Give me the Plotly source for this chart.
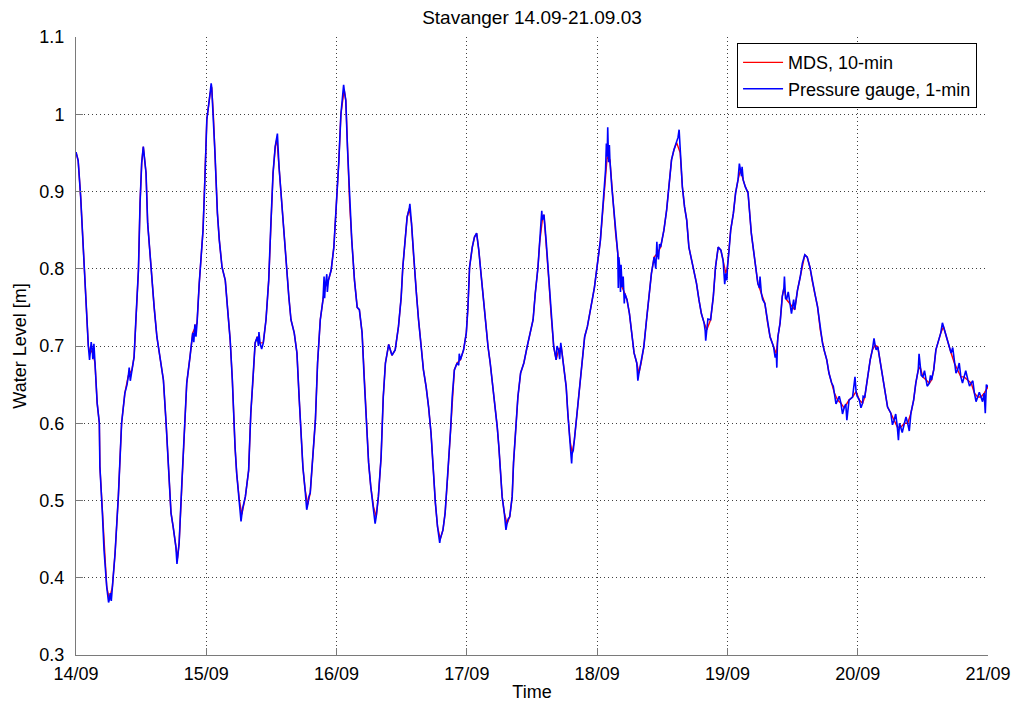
import pandas as pd
import plotly.graph_objects as go

# ---- data (hours since 14/09 00:00, water level in m) ----
key_hours = [
    0.0, 0.4, 0.86, 1.35, 1.97, 2.27, 2.6, 3.0, 3.2, 3.5, 3.9, 4.3, 4.4, 4.86, 5.16, 5.66, 6.15, 6.7, 7.2, 7.8,
    8.4, 9.0, 9.65, 10.3, 10.7, 11.06, 11.5, 11.8, 12.1, 12.4, 12.9, 13.2, 13.8, 14.4, 14.9, 15.5, 16.1, 16.6, 17.0, 17.5,
    17.9, 18.4, 18.7, 19.0, 19.5, 19.9, 20.4, 21.0, 21.5, 22.3, 22.7, 23.4, 23.7, 24.1, 24.7, 25.0, 25.3, 25.6, 26.05, 26.4,
    26.9, 27.5, 27.9, 28.4, 28.8, 29.0, 29.3, 29.6, 30.1, 30.55, 31.2, 31.8, 32.2, 32.6, 33.0, 33.4, 33.9, 34.5, 35.0, 35.5,
    35.9, 36.3, 36.7, 37.0, 37.4, 37.8, 38.2, 38.7, 39.2, 39.6, 40.2, 40.7, 41.1, 41.5, 41.8, 42.2, 42.7, 43.15, 43.6, 44.1,
    44.5, 45.0, 45.5, 45.9, 46.5, 47.0, 47.5, 47.9, 48.4, 48.8, 49.2, 49.4, 49.7, 50.0, 50.4, 50.8, 51.3, 51.8, 52.2, 52.7,
    53.1, 53.4, 53.9, 54.3, 54.8, 55.3, 55.7, 56.2, 56.6, 57.0, 57.6, 58.2, 58.8, 59.4, 59.9, 60.2, 60.7, 61.0, 61.4, 61.8,
    62.2, 62.7, 63.1, 63.6, 64.0, 64.5, 64.95, 65.4, 65.8, 66.2, 66.6, 67.1, 67.6, 68.0, 68.5, 69.0, 69.3, 69.7, 70.2, 70.8,
    71.4, 71.9, 72.2, 72.5, 73.0, 73.4, 73.8, 74.2, 74.6, 75.0, 75.4, 75.9, 76.3, 76.8, 77.3, 77.6, 77.9, 78.2, 78.5, 78.9,
    79.4, 79.9, 80.35, 80.6, 80.95, 81.4, 81.9, 82.5, 83.1, 83.7, 84.2, 84.6, 85.1, 85.4, 85.9, 86.2, 86.6, 87.1, 87.5, 88.0,
    88.45, 88.9, 89.4, 89.9, 90.3, 90.6, 91.0, 91.4, 91.8, 92.3, 92.8, 93.3, 93.7, 94.2, 94.7, 95.1, 95.5, 95.9, 96.3, 96.6,
    96.9, 97.2, 97.55, 97.85, 98.35, 98.7, 99.1, 99.4, 99.8, 100.2, 100.6, 101.1, 101.5, 101.95, 102.3, 102.8, 103.3, 103.7, 104.1, 104.6,
    105.1, 105.5, 106.0, 106.5, 107.1, 107.7, 108.3, 108.8, 109.2, 109.7, 110.15, 110.65, 111.3, 111.7, 112.1, 112.5, 112.9, 113.4, 113.8, 114.3,
    114.75, 115.2, 115.7, 116.2, 116.9, 117.4, 117.8, 118.3, 118.8, 119.2, 119.7, 120.0, 120.3, 120.6, 121.1, 121.5, 121.95, 122.4, 122.9, 123.3,
    123.8, 124.4, 124.8, 125.2, 125.6, 126.25, 126.9, 127.4, 127.85, 128.5, 129.0, 129.3, 129.7, 130.1, 130.4, 130.9, 131.5, 132.0, 132.4, 132.9,
    133.4, 133.8, 134.25, 134.7, 135.2, 135.6, 136.1, 136.6, 137.1, 137.5, 137.8, 138.3, 138.7, 139.2, 139.7, 140.3, 140.9, 141.5, 142.4, 143.05,
    143.7, 144.3, 144.9, 145.3, 145.8, 146.3, 146.7, 147.2, 147.7, 148.1, 148.6, 149.0, 149.5, 150.1, 150.7, 151.3, 151.95, 152.6, 153.2, 153.8,
    154.3, 154.7, 155.15, 155.5, 156.0, 156.6, 157.2, 157.6, 158.0, 158.4, 158.85, 159.3, 159.8, 160.3, 160.7, 161.2, 161.8, 162.4, 163.0, 163.6,
    164.3, 164.9, 165.5, 166.1, 166.7, 167.3, 168.0,
]
key_level = [
    0.951, 0.940, 0.893, 0.820, 0.734, 0.700, 0.690, 0.695, 0.688, 0.678, 0.626, 0.600, 0.544, 0.484, 0.436, 0.388, 0.372, 0.388, 0.432, 0.505,
    0.600, 0.639, 0.662, 0.669, 0.686, 0.738, 0.798, 0.885, 0.937, 0.958, 0.924, 0.859, 0.798, 0.750, 0.712, 0.686, 0.656, 0.600, 0.539, 0.484,
    0.466, 0.440, 0.425, 0.445, 0.523, 0.582, 0.652, 0.686, 0.717, 0.730, 0.781, 0.850, 0.906, 0.993, 1.027, 1.035, 1.000, 0.950, 0.872, 0.837,
    0.802, 0.785, 0.750, 0.708, 0.656, 0.613, 0.569, 0.535, 0.500, 0.482, 0.505, 0.539, 0.613, 0.656, 0.704, 0.712, 0.704, 0.704, 0.734, 0.785,
    0.859, 0.924, 0.958, 0.968, 0.932, 0.898, 0.859, 0.811, 0.764, 0.734, 0.717, 0.691, 0.634, 0.578, 0.543, 0.514, 0.495, 0.510, 0.549, 0.604,
    0.678, 0.734, 0.760, 0.776, 0.785, 0.798, 0.828, 0.872, 0.937, 1.000, 1.027, 1.032, 1.018, 0.958, 0.885, 0.837, 0.785, 0.750, 0.747, 0.717,
    0.656, 0.613, 0.549, 0.518, 0.492, 0.479, 0.505, 0.556, 0.634, 0.678, 0.702, 0.688, 0.695, 0.725, 0.763, 0.802, 0.846, 0.867, 0.878, 0.859,
    0.815, 0.768, 0.734, 0.699, 0.669, 0.647, 0.621, 0.587, 0.535, 0.497, 0.466, 0.450, 0.462, 0.484, 0.535, 0.591, 0.634, 0.669, 0.678, 0.682,
    0.695, 0.717, 0.750, 0.802, 0.828, 0.841, 0.846, 0.824, 0.794, 0.764, 0.734, 0.699, 0.678, 0.647, 0.621, 0.595, 0.569, 0.539, 0.505, 0.484,
    0.470, 0.479, 0.505, 0.549, 0.591, 0.634, 0.665, 0.678, 0.699, 0.717, 0.734, 0.768, 0.802, 0.833, 0.863, 0.870, 0.837, 0.785, 0.742, 0.699,
    0.682, 0.695, 0.699, 0.673, 0.647, 0.613, 0.578, 0.561, 0.578, 0.613, 0.647, 0.682, 0.712, 0.725, 0.742, 0.760, 0.776, 0.802, 0.820, 0.837,
    0.863, 0.898, 0.928, 0.945, 0.941, 0.906, 0.872, 0.846, 0.820, 0.798, 0.776, 0.768, 0.760, 0.742, 0.717, 0.691, 0.678, 0.665, 0.678, 0.699,
    0.734, 0.764, 0.794, 0.815, 0.820, 0.828, 0.850, 0.876, 0.906, 0.941, 0.954, 0.963, 0.950, 0.906, 0.880, 0.863, 0.828, 0.811, 0.798, 0.781,
    0.760, 0.742, 0.730, 0.721, 0.734, 0.764, 0.802, 0.828, 0.824, 0.811, 0.794, 0.802, 0.824, 0.850, 0.872, 0.898, 0.915, 0.928, 0.915, 0.906,
    0.898, 0.846, 0.824, 0.802, 0.781, 0.768, 0.755, 0.730, 0.712, 0.699, 0.690, 0.712, 0.730, 0.764, 0.775, 0.760, 0.755, 0.751, 0.747, 0.772,
    0.789, 0.807, 0.818, 0.815, 0.802, 0.785, 0.768, 0.751, 0.721, 0.704, 0.695, 0.682, 0.665, 0.652, 0.639, 0.630, 0.626, 0.620, 0.630, 0.634,
    0.641, 0.630, 0.626, 0.634, 0.660, 0.682, 0.695, 0.701, 0.699, 0.682, 0.660, 0.639, 0.621, 0.613, 0.604, 0.595, 0.595, 0.600, 0.600, 0.613,
    0.630, 0.652, 0.669, 0.673, 0.660, 0.656, 0.652, 0.656, 0.669, 0.695, 0.708, 0.717, 0.725, 0.712, 0.704, 0.691, 0.678, 0.669, 0.660, 0.660,
    0.656, 0.652, 0.639, 0.634, 0.634, 0.639, 0.647,
]

# short excursions visible only in the 1-min pressure-gauge record
spike_hours = [
    2.5, 2.8, 3.1, 3.3, 6.0, 6.3, 6.5, 9.4, 9.8, 10.0, 18.6, 18.8, 21.7, 21.9, 22.1,
    24.9, 30.4, 30.7, 33.6, 33.7, 34.2, 37.1, 42.5, 42.9, 45.7, 45.8, 46.2, 46.3, 49.3, 55.1, 55.4,
    61.5, 67.0, 67.3, 70.5, 70.6, 79.2, 79.6, 85.8, 88.6, 89.1, 89.3,
    91.3, 91.6, 97.7, 97.95, 98.1, 98.25, 99.9, 100.0, 100.3, 100.4, 100.8, 101.0, 103.5, 103.9,
    106.8, 107.0, 107.3, 107.5,
    110.9, 111.1, 115.9, 116.0, 116.4, 119.5, 119.9, 122.2, 122.6, 122.7, 125.9, 126.0, 126.5,
    128.8, 129.1, 129.2, 130.5, 130.7, 131.2, 131.8, 132.2,
    139.5, 140.0, 140.6, 141.2, 141.8, 142.0, 142.2, 143.3, 143.5, 143.9, 144.6, 145.0, 147.0, 147.4,
    150.4, 151.0, 151.5, 151.7, 152.2, 152.9, 153.5,
    155.3, 155.7, 156.3, 156.8, 157.4, 159.6, 161.5, 162.1, 162.7, 163.3, 163.9, 164.6, 165.2, 165.8,
    166.4, 167.0, 167.5, 167.7,
]
spike_level = [
    0.682, 0.705, 0.683, 0.703, 0.368, 0.380, 0.370, 0.650, 0.672, 0.655, 0.418, 0.432, 0.705, 0.728, 0.712,
    1.040, 0.473, 0.490, 0.700, 0.718, 0.696, 0.975, 0.488, 0.505, 0.790, 0.762, 0.793, 0.770, 1.038, 0.470, 0.485,
    0.884, 0.445, 0.455, 0.675, 0.690, 0.462, 0.476, 0.875, 0.700, 0.683, 0.704,
    0.548, 0.565, 0.962, 0.983, 0.938, 0.960, 0.775, 0.815, 0.770, 0.805, 0.790, 0.755, 0.655, 0.672,
    0.800, 0.835, 0.812, 0.832,
    0.970, 0.980, 0.720, 0.707, 0.735, 0.780, 0.785, 0.936, 0.920, 0.932, 0.775, 0.790, 0.760,
    0.685, 0.672, 0.700, 0.790, 0.762, 0.770, 0.742, 0.760,
    0.648, 0.625, 0.635, 0.612, 0.625, 0.604, 0.620, 0.645, 0.660, 0.635, 0.620, 0.635, 0.710, 0.695,
    0.598, 0.612, 0.578, 0.600, 0.588, 0.608, 0.590,
    0.690, 0.662, 0.668, 0.648, 0.662, 0.730, 0.698, 0.665, 0.678, 0.652, 0.668, 0.648, 0.655, 0.628,
    0.640, 0.628, 0.613, 0.650,
]

x_tick_labels = ["14/09", "15/09", "16/09", "17/09", "18/09", "19/09", "20/09", "21/09"]

START = pd.Timestamp("2003-09-14")


def to_time(hours):
    return [START + pd.Timedelta(hours=h) for h in hours]


# MDS (10-min) series: key points
mds_t = to_time(key_hours)
# pressure gauge (1-min): key points plus short excursions, in time order
gauge_pairs = sorted(zip(key_hours + spike_hours, key_level + spike_level))
gauge_t = to_time([p[0] for p in gauge_pairs])
gauge_v = [p[1] for p in gauge_pairs]

tick_times = to_time([24 * i for i in range(len(x_tick_labels))])

FONT = "Liberation Sans, Arial, sans-serif"

fig = go.Figure()
fig.add_trace(go.Scatter(x=mds_t, y=key_level, mode="lines", name="MDS, 10-min",
                         line=dict(color="#ff0000", width=1.4)))
fig.add_trace(go.Scatter(x=gauge_t, y=gauge_v, mode="lines", name="Pressure gauge, 1-min",
                         line=dict(color="#0000ff", width=1.6)))

axis_common = dict(
    showline=True, linecolor="#7a7a7a", linewidth=1,
    ticks="inside", ticklen=7, tickcolor="#7a7a7a", tickwidth=1,
    showgrid=True, gridcolor="rgba(0,0,0,0.75)", gridwidth=1, griddash="1px,3px",
    zeroline=False, tickfont=dict(family=FONT, size=18, color="black"),
    automargin=False,
)

fig.update_layout(
    width=1014, height=702,
    margin=dict(l=76, r=26, t=37, b=47, autoexpand=False),
    paper_bgcolor="white", plot_bgcolor="white",
    font=dict(family=FONT, color="black"),
    title=dict(text="Stavanger 14.09-21.09.03", x=0.5, xref="paper", xanchor="center",
               y=1 - 17 / 702, yref="container", yanchor="middle",
               font=dict(family=FONT, size=19, color="black"), automargin=False),
    showlegend=True,
    legend=dict(x=0.988, y=0.99, xanchor="right", yanchor="top",
                bgcolor="white", bordercolor="black", borderwidth=1,
                font=dict(family=FONT, size=18, color="black"),
                tracegroupgap=0, itemwidth=40),
    xaxis=dict(axis_common, range=[START, START + pd.Timedelta(hours=168)],
               tickvals=tick_times, ticktext=x_tick_labels, ticklabelstandoff=2,
               title=dict(text="Time", standoff=8, font=dict(family=FONT, size=18, color="black"))),
    yaxis=dict(axis_common, range=[0.3, 1.1], dtick=0.1, tick0=0.3, ticklabelstandoff=7,
               title=dict(text="Water Level [m]", standoff=8, font=dict(family=FONT, size=18, color="black"))),
)

fig.write_html("out.html")
